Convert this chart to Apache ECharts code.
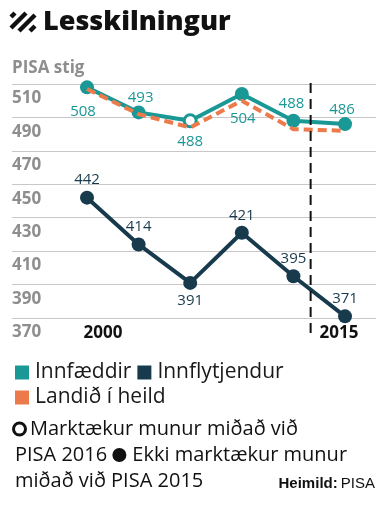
<!DOCTYPE html>
<html><head><meta charset="utf-8">
<script src="https://cdn.jsdelivr.net/npm/echarts@6/dist/echarts.min.js"></script>
<style>html,body{margin:0;padding:0;background:#fff}#c{width:390px;height:505px}</style>
</head><body><div id="c"></div>
<script>
// ---- data ----
const years = [2000, 2003, 2006, 2009, 2012, 2015];
const innfaeddir = [508, 493, 488, 504, 488, 486];
const innflytjendur = [442, 414, 391, 421, 395, 371];
const landid = [507, 492, 484, 500, 483, 482];
const nativeSignificant = [false, false, true, false, false, false];
const nativeLabelPos = ['bottom', 'top', 'bottom', 'bottom', 'top', 'top'];
const immLabelPos = ['top', 'top', 'bottom', 'top', 'top', 'top'];
const yMin = 370, yMax = 510, yStep = 20;
const xTickLabels = [2000, 2015];
const dividerYear = 2013;
const seriesNames = ['Innfæddir', 'Innflytjendur', 'Landið í heild'];

const TEAL = '#1a9896', NAVY = '#173a4d', ORANGE = '#ec7a4a';
const FONT = "'Open Sans', sans-serif";

const chart = echarts.init(document.getElementById('c'), null, {renderer: 'canvas'});

const nativeLabelDist = [10, 0, 6, 10, 3, 0];
const nativeLabelShift = [-4, 2, 0, 1, -2, -3];
const nativeData = years.map((y, i) => {
  const d = {
    value: [y, innfaeddir[i]],
    label: {position: nativeLabelPos[i], distance: nativeLabelDist[i], offset: [nativeLabelShift[i], 0]}
  };
  if (nativeSignificant[i]) {
    d.symbolSize = 12;
    d.itemStyle = {color: '#fff', borderColor: TEAL, borderWidth: 3};
  }
  return d;
});
const immData = years.map((y, i) => ({
  value: [y, innflytjendur[i]],
  label: {position: immLabelPos[i], distance: 3}
}));
const landData = years.map((y, i) => [y, landid[i]]);

// stripes for icon
const stripes = [-3, 8, 19, 30].map(c => {
  const x0 = 11, x1 = 35, yB = 31, yT = 13;
  let pA = [c, yB], pB = [c + (yB - yT), yT];
  if (pA[0] < x0) pA = [x0, yB - (x0 - c)];
  if (pB[0] > x1) pB = [x1, yB - (x1 - c)];
  return {type: 'line', shape: {x1: pA[0], y1: pA[1], x2: pB[0], y2: pB[1]},
    style: {stroke: '#111', lineWidth: 4.5}};
});

const option = {
  animation: false,
  backgroundColor: '#fff',
  textStyle: {fontFamily: FONT},
  grid: {left: 12, right: 14, top: 84, bottom: 187},
  legend: {
    data: seriesNames,
    left: 10, top: 357, width: 300,
    icon: 'rect', itemWidth: 14, itemHeight: 14, itemGap: 4,
    textStyle: {fontSize: 21, color: '#1a1a1a', fontFamily: FONT, lineHeight: 16, padding: [0, 2, 0, 1]}
  },
  xAxis: {
    type: 'value', min: 1995.64, max: 2016.8,
    splitLine: {show: false}, axisLine: {show: false}, axisTick: {show: false},
    axisLabel: {
      customValues: xTickLabels, margin: 7,
      formatter: v => v === 2000 ? '{a|' + v + '}' : '{b|' + v + '}',
      rich: {
        a: {fontSize: 17, fontWeight: 'bold', color: '#111', fontFamily: FONT, padding: [0, 0, 0, 32]},
        b: {fontSize: 17, fontWeight: 'bold', color: '#111', fontFamily: FONT, padding: [0, 12, 0, 0]}
      }
    }
  },
  yAxis: {
    type: 'value', min: yMin, max: yMax, interval: yStep,
    axisLine: {show: false}, axisTick: {show: false},
    splitLine: {show: true, lineStyle: {color: '#c8c8c8', width: 1}},
    axisLabel: {inside: true, margin: 0, verticalAlign: 'top', padding: [6, 0, 0, 0],
      fontSize: 17, fontWeight: 'bold', color: '#8e8e8e', fontFamily: FONT}
  },
  series: [
    {
      name: seriesNames[0], type: 'line', data: nativeData, z: 2,
      symbol: 'circle', symbolSize: 14,
      lineStyle: {color: TEAL, width: 4}, itemStyle: {color: TEAL},
      label: {show: true, fontSize: 15, color: TEAL, fontFamily: FONT, formatter: p => p.value[1]}
    },
    {
      name: seriesNames[1], type: 'line', data: immData, z: 2,
      symbol: 'circle', symbolSize: 14,
      lineStyle: {color: NAVY, width: 4}, itemStyle: {color: NAVY},
      label: {show: true, fontSize: 15, color: NAVY, fontFamily: FONT, formatter: p => p.value[1]}
    },
    {
      name: seriesNames[2], type: 'line', data: landData, z: 3,
      symbol: 'none', showSymbol: false,
      lineStyle: {color: ORANGE, width: 4, type: [9, 5]}, itemStyle: {color: ORANGE}
    }
  ],
  graphic: [
    ...stripes,
    {type: 'text', left: 43, top: 9, style: {text: 'Lesskilningur', fontSize: 27, fontWeight: 800, fill: '#111', fontFamily: FONT}},
    {type: 'text', left: 12, top: 60, style: {text: 'PISA stig', fontSize: 17, fontWeight: 'bold', fill: '#8e8e8e', fontFamily: FONT}},
    {type: 'text', left: 12, top: 416, style: {
      text: '{o|}{g|}Marktækur munur miðað við\nPISA 2016 {f|}{g|}Ekki marktækur munur\nmiðað við PISA 2015',
      fontSize: 20, lineHeight: 26, fill: '#111', fontFamily: FONT,
      rich: {
        o: {width: 9, height: 9, borderColor: '#111', borderWidth: 3, borderRadius: 8, backgroundColor: '#fff'},
        f: {width: 14, height: 14, borderRadius: 7, backgroundColor: '#111'},
        g: {width: 6}
      }
    }},
    {type: 'text', right: 15, top: 476, style: {
      text: '{b|Heimild:} {n|PISA}', fontFamily: "'Liberation Sans Narrow', 'Open Sans', sans-serif",
      rich: {
        b: {fontSize: 15, fontWeight: 'bold', fill: '#111', fontFamily: "'Liberation Sans Narrow', sans-serif"},
        n: {fontSize: 15, fill: '#111', fontFamily: "'Liberation Sans Narrow', sans-serif"}
      }
    }}
  ]
};
chart.setOption(option);

// dashed divider placed through the library's own scales
const pTop = chart.convertToPixel({gridIndex: 0}, [dividerYear, yMax]);
const pBot = chart.convertToPixel({gridIndex: 0}, [dividerYear, yMin]);
chart.setOption({graphic: [...option.graphic, {
  type: 'line', z: 10,
  shape: {x1: pTop[0], y1: pTop[1] - 1, x2: pBot[0], y2: pBot[1] + 18},
  style: {stroke: '#111', lineWidth: 2, lineDash: [10, 6]}
}]});
</script>
</body></html>
